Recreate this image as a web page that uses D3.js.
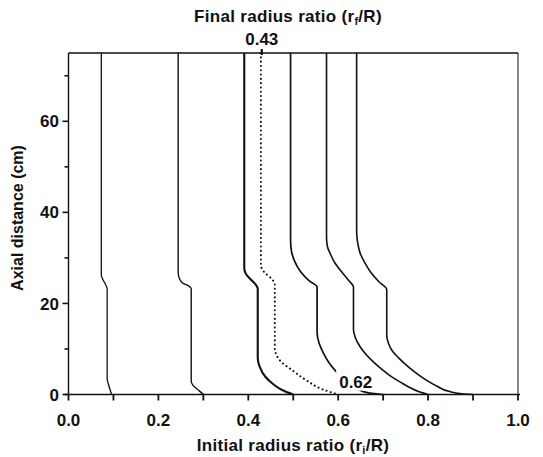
<!DOCTYPE html>
<html>
<head>
<meta charset="utf-8">
<script src="https://cdn.jsdelivr.net/npm/d3@7"></script>
<style>
  body { margin: 0; background: #fff; }
  svg { display: block; }
  text { font-family: "Liberation Sans", Arial, sans-serif; font-weight: bold; fill: #111; }
</style>
</head>
<body>
<svg width="543" height="457"></svg>
<script>
// radius ratio profiles: [r/R, axial distance cm], top -> bottom
const line010 = [[0.073,75],[0.073,26.2],[0.075,25.6],[0.084,23.8],[0.086,23.2],[0.086,3.4],[0.089,2.2],[0.096,0]];
const line030 = [[0.244,75],[0.244,26.8],[0.247,25.4],[0.255,24.4],[0.268,23.8],[0.273,23.2],[0.273,2.9],[0.277,2.0],[0.291,0.8],[0.300,0]];
const line050 = [[0.391,75],[0.391,27.8],[0.394,26.6],[0.405,25.3],[0.416,24.2],[0.421,23.2],[0.421,8.0],[0.425,6.2],[0.438,3.9],[0.455,2.3],[0.475,1.0],[0.500,0]];
const line060 = [[0.428,75],[0.428,28.4],[0.436,26.8],[0.452,25.4],[0.459,24.2],[0.459,10.1],[0.463,8.6],[0.474,7.1],[0.494,5.6],[0.528,3.2],[0.566,1.1],[0.600,0]];
const line070 = [[0.494,75],[0.494,34],[0.496,31.5],[0.503,29.3],[0.516,27.0],[0.535,25.0],[0.553,23.6],[0.553,13.8],[0.557,11.4],[0.566,9.3],[0.578,7.2],[0.594,5.2],[0.614,3.3],[0.630,2.0],[0.644,1.1],[0.670,0.3],[0.700,0]];
const line080 = [[0.574,75],[0.574,34.6],[0.576,32.5],[0.582,31],[0.592,29],[0.604,27.4],[0.622,25.2],[0.634,23.6],[0.634,14.2],[0.638,12.5],[0.648,10.6],[0.662,8.8],[0.680,7.0],[0.700,5.3],[0.720,3.8],[0.740,2.6],[0.760,1.5],[0.780,0.6],[0.800,0]];
const line090 = [[0.641,75],[0.641,36],[0.643,33.5],[0.649,31],[0.660,28.8],[0.672,26.9],[0.690,24.8],[0.708,23.0],[0.708,13.0],[0.712,11.2],[0.720,9.6],[0.735,8.0],[0.751,6.5],[0.772,4.8],[0.795,3.2],[0.820,1.8],[0.846,0.7],[0.875,0.15],[0.900,0]];

const xTicks = [0,0.1,0.2,0.3,0.4,0.5,0.6,0.7,0.8,0.9,1.0];
const xLabels = [0,0.2,0.4,0.6,0.8,1.0];
const yTicks = [0,10,20,30,40,50,60,70];
const yLabels = [0,20,40,60];
const finalMark = 0.43, initialMark = 0.62;

const svg = d3.select("svg");
const x = d3.scaleLinear().domain([0, 1]).range([68.5, 518]);
const y = d3.scaleLinear().domain([0, 75]).range([394.5, 53]);

const line = d3.line()
  .x(d => x(d[0]))
  .y(d => y(d[1]))
  .curve(d3.curveMonotoneY);

const solid = [
  { pts: line010, w: 1.3 },
  { pts: line030, w: 1.4 },
  { pts: line050, w: 2.1 },
  { pts: line070, w: 1.7 },
  { pts: line080, w: 1.6 },
  { pts: line090, w: 1.6 }
];

svg.append("g")
  .selectAll("path")
  .data(solid)
  .enter()
  .append("path")
  .attr("d", d => line(d.pts))
  .attr("fill", "none")
  .attr("stroke", "#111")
  .attr("stroke-width", d => d.w);

// label 0.62 knocks out the line under it
const lab = svg.append("g");
const labText = lab.append("text")
  .attr("x", x(0.639))
  .attr("y", y(1.5))
  .attr("text-anchor", "middle")
  .attr("font-size", 17)
  .text(initialMark.toFixed(2));
const bb = labText.node().getBBox();
lab.insert("rect", "text")
  .attr("x", bb.x - 3).attr("y", bb.y - 3)
  .attr("width", bb.width + 6).attr("height", bb.height + 2)
  .attr("fill", "#fff");

svg.append("path")
  .attr("d", line(line060))
  .attr("fill", "none")
  .attr("stroke", "#111")
  .attr("stroke-width", 2)
  .attr("stroke-linecap", "round")
  .attr("stroke-dasharray", "0.1,4.2");

// frame
const ax = svg.append("g").attr("stroke", "#111").attr("stroke-width", 1.4);
ax.append("line").attr("x1", x(0)).attr("x2", x(0)).attr("y1", y(0)).attr("y2", y(75));
ax.append("line").attr("x1", x(0) - 4).attr("x2", x(1) + 2).attr("y1", y(0)).attr("y2", y(0));
ax.append("line").attr("x1", x(0)).attr("x2", x(1)).attr("y1", y(75)).attr("y2", y(75));
ax.append("line").attr("x1", x(1)).attr("x2", x(1)).attr("y1", y(0)).attr("y2", y(75)).attr("stroke-width", 1);

ax.selectAll(".xt")
  .data(xTicks)
  .enter()
  .append("line")
  .attr("x1", d => x(d)).attr("x2", d => x(d))
  .attr("y1", y(0)).attr("y2", y(0) + 6)
  .attr("stroke-width", 1.8);

ax.selectAll(".yt")
  .data(yTicks)
  .enter()
  .append("line")
  .attr("x1", d => x(0) - (d % 20 === 0 ? 6 : 4)).attr("x2", x(0))
  .attr("y1", d => y(d)).attr("y2", d => y(d))
  .attr("stroke-width", 1.6);

ax.append("line")
  .attr("x1", x(finalMark)).attr("x2", x(finalMark))
  .attr("y1", y(75) - 4).attr("y2", y(75) + 2)
  .attr("stroke-width", 2.2);

svg.selectAll(".xl")
  .data(xLabels)
  .enter()
  .append("text")
  .attr("x", d => x(d))
  .attr("y", 426)
  .attr("text-anchor", "middle")
  .attr("font-size", 17)
  .text(d => d.toFixed(1));

svg.selectAll(".yl")
  .data(yLabels)
  .enter()
  .append("text")
  .attr("x", 59)
  .attr("y", d => y(d))
  .attr("dy", "0.36em")
  .attr("text-anchor", "end")
  .attr("font-size", 17)
  .text(d => d);

svg.append("text")
  .attr("x", x(finalMark))
  .attr("y", 45)
  .attr("text-anchor", "middle")
  .attr("font-size", 17)
  .text(finalMark.toFixed(2));

const bottomTitle = svg.append("text")
  .attr("x", 293).attr("y", 451)
  .attr("text-anchor", "middle")
  .attr("font-size", 17)
  .attr("letter-spacing", 0.3);
bottomTitle.append("tspan").text("Initial radius ratio (r");
bottomTitle.append("tspan").attr("font-size", 11).attr("dy", 3).text("i");
bottomTitle.append("tspan").attr("dy", -3).text("/R)");

const topTitle = svg.append("text")
  .attr("x", 288).attr("y", 22)
  .attr("text-anchor", "middle")
  .attr("font-size", 17)
  .attr("letter-spacing", 0.3);
topTitle.append("tspan").text("Final radius ratio (r");
topTitle.append("tspan").attr("font-size", 11).attr("dy", 3).text("f");
topTitle.append("tspan").attr("dy", -3).text("/R)");

svg.append("text")
  .attr("transform", "translate(23,218) rotate(-90)")
  .attr("text-anchor", "middle")
  .attr("font-size", 16)
  .text("Axial distance (cm)");
</script>
</body>
</html>
